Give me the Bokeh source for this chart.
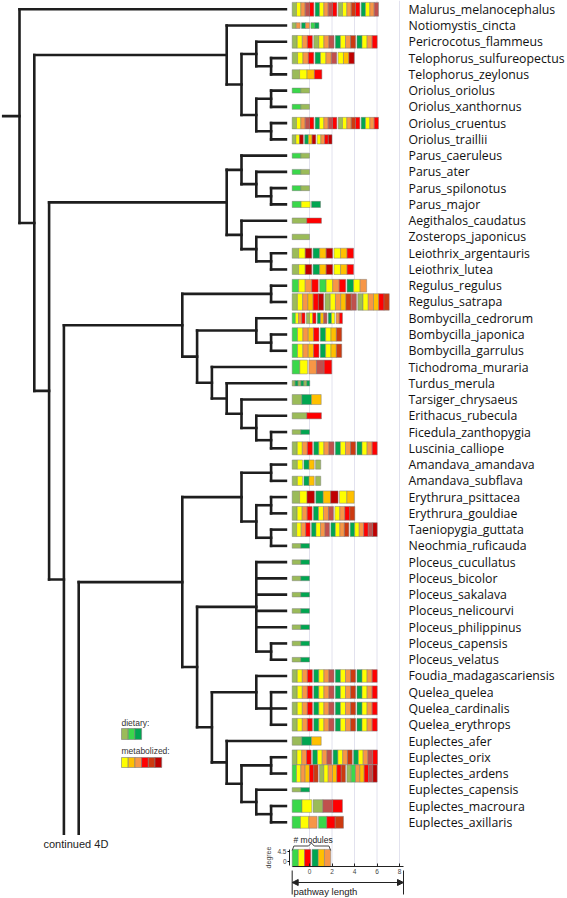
import re
from bokeh.plotting import figure
from bokeh.models import Range1d, LinearAxis, FixedTicker, Arrow, NormalHead
from bokeh.core.properties import value
from bokeh.embed import file_html
from bokeh.resources import INLINE

# ---------------- data ----------------
# tree (internal-node labels = node depth; tips sit at TIP_DEPTH; "*" = lineage continued in 4D)
tree_upper = ("(Malurus_melanocephalus,((Notiomystis_cincta,((Pericrocotus_flammeus,(Telophorus_sulfureopectus,"
              "Telophorus_zeylonus)17)16,((Oriolus_oriolus,Oriolus_xanthornus)17,(Oriolus_cruentus,Oriolus_traillii)17)16)15)14,"
              "(((Parus_caeruleus,(Parus_ater,(Parus_spilonotus,Parus_major)17)16)15,(Aegithalos_caudatus,(Zosterops_japonicus,"
              "(Leiothrix_argentauris,Leiothrix_lutea)17)16)15)14,(((Regulus_regulus,Regulus_satrapa)17,((Bombycilla_cedrorum,"
              "(Bombycilla_japonica,Bombycilla_garrulus)17)16,(Tichodroma_muraria,(Turdus_merula,(Tarsiger_chrysaeus,"
              "(Erithacus_rubecula,(Ficedula_zanthopygia,Luscinia_calliope)17)16)15)14)13)12)11,*)3)2)1)0")
tree_lower = ("((((Amandava_amandava,Amandava_subflava)17,((Erythrura_psittacea,Erythrura_gouldiae)17,(Taeniopygia_guttata,"
              "Neochmia_ruficauda)17)16)15,((Ploceus_cucullatus,Ploceus_bicolor,Ploceus_sakalava,Ploceus_nelicourvi,"
              "Ploceus_philippinus,(Ploceus_capensis,Ploceus_velatus)17)16,((Foudia_madagascariensis,(Quelea_quelea,"
              "Quelea_cardinalis,Quelea_erythrops)17)16,(Euplectes_afer,((Euplectes_orix,Euplectes_ardens)17,(Euplectes_capensis,"
              "(Euplectes_macroura,Euplectes_axillaris)17)16)15)14)13)12)11,*)4")
TIP_DEPTH = 18
ROOT_STUB = -1.1

# module bars: one char per compound cell, space = gap between modules
bar_pattern = [
    "oypbr Gypbr oyper Gypb", "op Gp gG", "oypr oypb Gype Gypr", "oypr Gypb yad", "oyar",
    "go", "go", "oypbr Gypbr oyper Gypr", "oyd Gad yprd",
    "go", "go", "go", "gy G", "or", "o", "oyd Gad yar", "oyd Gad yar",
    "gypr gypr Gyp", "oypard oypaeb oypare", "gypr oyr Gab Gy pr", "gypar Gyae", "gypar Gyae",
    "gy pbr", "oGoGoG", "oGa", "or", "oG", "oypr Gypb Gype Gypr",
    "oy Ga o", "oy Ga o", "oyd Gad ya", "oypr Gypb ypre", "oypr Gypb Gype Gyprbd", "oG",
    "oG", "oG", "oG", "oG", "oG", "oG", "oG",
    "oypr Gypb Gype Gypr", "oypr Gypb Gype Gypr", "oypr Gypb Gype Gypr", "oypr Gypb Gype Gypr",
    "oGa", "oypr Gypb Gype Gypbr", "gypare oypare ogparbd", "oG", "gy obr", "gyp gre",
]
cell_length = [
    0.385, 0.356, 0.45, 0.48, 0.66, 0.77, 0.77, 0.385, 0.33,
    0.77, 0.77, 0.77, 0.8, 1.3, 1.54, 0.58, 0.58,
    0.58, 0.466, 0.285, 0.476, 0.476, 0.68, 0.26, 0.86, 1.3, 0.77, 0.45,
    0.46, 0.46, 0.66, 0.444, 0.40, 0.77,
    0.77, 0.77, 0.77, 0.77, 0.77, 0.77, 0.77,
    0.45, 0.45, 0.45, 0.45, 0.86, 0.425, 0.385, 0.77, 0.87, 0.74,
]
degree = [
    3.6, 1.5, 3.3, 3.0, 2.4, 1.3, 1.3, 3.0, 2.4,
    1.3, 1.3, 1.3, 1.6, 1.4, 1.4, 2.6, 2.6,
    3.3, 4.3, 2.8, 3.5, 3.5, 3.6, 1.4, 2.6, 1.6, 1.2, 3.4,
    2.4, 2.4, 3.2, 3.6, 3.6, 1.2,
    1.2, 1.2, 1.2, 1.2, 1.2, 1.2, 1.2,
    3.3, 3.3, 3.3, 3.3, 2.2, 3.8, 4.5, 1.1, 3.3, 3.1,
]
dietary_keys = ["o", "g", "G"]
metabolized_keys = ["y", "a", "p", "r", "e", "d"]
legend_bar_pattern = "gyr Gap"
legend_bar_cell = 0.55
legend_bar_degree = 4.5
path_ticks = [0, 2, 4, 6, 8]
degree_ticks = [0, 4.5]

PALETTE = {"o": "#9BBB59", "g": "#3AD84A", "G": "#00A651", "y": "#FFFF00", "a": "#FFC000",
           "p": "#F79646", "r": "#FF0000", "b": "#C0504D", "e": "#CC3A10", "d": "#C00000"}

# ---------------- layout constants ----------------
W, H = 567, 898
PX_DEPTH, PX0_DEPTH = 14.8, 19.0      # tree depth unit
PX_ROW, PX0_ROW = 16.26, 8.8          # leaf row
PX_PATH, PX0_PATH = 11.25, 309.0      # pathway-length unit
PX_DEG, PX0_DEG = 2.222, 861.0        # degree axis (legend)
BAR_START = -1.54
GAP = 0.12
DEG_ROW = 17.3 / 4.5 / PX_ROW
CONT_Y = 50.7
LABEL_X = 8.8

def row(px):
    return (px - PX0_ROW) / PX_ROW

def path(px):
    return (px - PX0_PATH) / PX_PATH

# ---------------- tree parsing & layout ----------------
def parse(s):
    pos = 0
    def node():
        nonlocal pos
        if s[pos] == "(":
            pos += 1
            kids = [node()]
            while s[pos] == ",":
                pos += 1
                kids.append(node())
            pos += 1
            m = re.match(r"[0-9.]+", s[pos:])
            pos += m.end()
            return {"depth": float(m.group()), "kids": kids}
        m = re.match(r"[A-Za-z_*]+", s[pos:])
        pos += m.end()
        return {"name": m.group(), "kids": []}
    return node()

tips = []

def lay(n, parent_depth=None):
    if not n["kids"]:
        if n["name"] == "*":
            n["y"] = CONT_Y
            n["depth"] = parent_depth
        else:
            n["y"] = float(len(tips))
            tips.append(n["name"])
            n["depth"] = TIP_DEPTH
        return
    for k in n["kids"]:
        lay(k, n["depth"])
    n["y"] = (n["kids"][0]["y"] + n["kids"][-1]["y"]) / 2

segs = {"x0": [], "y0": [], "x1": [], "y1": []}

def add_seg(x0, y0, x1, y1):
    segs["x0"].append(x0); segs["y0"].append(y0); segs["x1"].append(x1); segs["y1"].append(y1)

def draw(n):
    if not n["kids"]:
        return
    add_seg(n["depth"], n["kids"][0]["y"], n["depth"], n["kids"][-1]["y"])
    for k in n["kids"]:
        if k["kids"] or k["name"] != "*":
            add_seg(n["depth"], k["y"], k["depth"], k["y"])
        draw(k)

upper = parse(tree_upper)
lower = parse(tree_lower)
lay(upper)
lay(lower)
draw(upper)
draw(lower)
add_seg(ROOT_STUB, upper["y"], upper["depth"], upper["y"])

# ---------------- figure ----------------
p = figure(width=W, height=H, output_backend="svg", toolbar_location=None,
           x_range=Range1d(-PX0_DEPTH / PX_DEPTH, (W - PX0_DEPTH) / PX_DEPTH),
           y_range=Range1d(row(H), row(0)),
           min_border=0, outline_line_color=None, background_fill_color="white")
p.xgrid.visible = False
p.ygrid.visible = False
p.center = [r for r in p.center if r.__class__.__name__ != "Grid"]
p.below = []
p.left = []
p.extra_x_ranges = {"path": Range1d(path(0), path(W))}
p.extra_y_ranges = {"deg": Range1d((PX0_DEG - H) / PX_DEG, PX0_DEG / PX_DEG)}

AXIS_ROW = row(866)

# grid lines of pathway length
p.segment(x0=path_ticks, y0=[row(0)] * len(path_ticks), x1=path_ticks, y1=[AXIS_ROW] * len(path_ticks),
          x_range_name="path", line_color="#E2E2EE", line_width=1)

# tree
p.segment(x0="x0", y0="y0", x1="x1", y1="y1", source=segs, line_color="#1E1E1E", line_width=2.6,
          line_cap="square")

# bars
def bar_cells(pattern, cl, deg, yc):
    q = {"left": [], "right": [], "top": [], "bottom": [], "color": []}
    x = BAR_START
    h = deg * DEG_ROW
    for ch in pattern:
        if ch == " ":
            x += GAP
            continue
        q["left"].append(x); q["right"].append(x + cl)
        q["top"].append(yc - h / 2); q["bottom"].append(yc + h / 2)
        q["color"].append(PALETTE[ch])
        x += cl
    return q

allq = {"left": [], "right": [], "top": [], "bottom": [], "color": []}
for i, (pat, cl, dg) in enumerate(zip(bar_pattern, cell_length, degree)):
    q = bar_cells(pat, cl, dg, float(i))
    for k in allq:
        allq[k] += q[k]
LEG_ROW = row(857.5)
q = bar_cells(legend_bar_pattern, legend_bar_cell, legend_bar_degree, LEG_ROW)
for k in allq:
    allq[k] += q[k]
p.quad(left="left", right="right", top="top", bottom="bottom", fill_color="color", source=allq,
       x_range_name="path", line_color="#7A7A7A", line_width=0.6, line_alpha=0.8)

# species labels
p.text(x=[LABEL_X] * len(tips), y=list(range(len(tips))), text=tips, x_range_name="path",
       text_baseline="middle", text_align="left", text_font=value("Open Sans"),
       text_font_size="12.3px", text_color="#111111")

# colour legend
sw = 6.7 / PX_PATH
x_leg = path(121)
p.quad(left=[x_leg + i * sw for i in range(len(dietary_keys))],
       right=[x_leg + (i + 1) * sw for i in range(len(dietary_keys))],
       top=[row(728)] * len(dietary_keys), bottom=[row(739)] * len(dietary_keys),
       fill_color=[PALETTE[k] for k in dietary_keys], x_range_name="path",
       line_color="#7A7A7A", line_width=0.6)
p.quad(left=[x_leg + i * sw for i in range(len(metabolized_keys))],
       right=[x_leg + (i + 1) * sw for i in range(len(metabolized_keys))],
       top=[row(757)] * len(metabolized_keys), bottom=[row(767)] * len(metabolized_keys),
       fill_color=[PALETTE[k] for k in metabolized_keys], x_range_name="path",
       line_color="#7A7A7A", line_width=0.6)
p.text(x=[x_leg, x_leg], y=[row(727), row(755)], text=["dietary:", "metabolized:"], x_range_name="path",
       text_baseline="bottom", text_font=value("Liberation Sans"), text_font_size="8.5px",
       text_color="#333333")

# continued label
p.text(x=[(43 - PX0_DEPTH) / PX_DEPTH], y=[row(843)], text=["continued 4D"], text_baseline="middle",
       text_font=value("Liberation Sans"), text_font_size="11px", text_color="#222222")

# bottom key: modules brace
bar_end = BAR_START + len(legend_bar_pattern.replace(" ", "")) * legend_bar_cell + legend_bar_pattern.count(" ") * GAP
mid = (BAR_START + bar_end) / 2
yb, ym, yt = row(850), row(845.5), row(842.5)
p.line(x=[BAR_START, BAR_START + 0.15, mid - 0.25, mid, mid + 0.25, bar_end - 0.15, bar_end],
       y=[yb, ym, ym, yt, ym, ym, yb], x_range_name="path", line_color="#444444", line_width=1)
p.text(x=[path(293)], y=[row(839)], text=["# modules"], x_range_name="path", text_baseline="middle",
       text_font=value("Liberation Sans"), text_font_size="8.5px", text_color="#222222")

# pathway length axis
PATH_END = path(403)
xax = LinearAxis(x_range_name="path", fixed_location=AXIS_ROW, ticker=FixedTicker(ticks=path_ticks),
                 bounds=(BAR_START, PATH_END), major_tick_in=3, major_tick_out=0, minor_tick_out=0,
                 minor_tick_in=0, major_label_standoff=2, major_label_text_font_size="6.5px",
                 major_label_text_font="Liberation Sans", axis_line_color="#222222", axis_line_width=1.2,
                 major_tick_line_color="#222222")
p.add_layout(xax, "below")

# degree axis
yax = LinearAxis(y_range_name="deg", x_range_name="path", fixed_location=path(289),
                 ticker=FixedTicker(ticks=degree_ticks), bounds=(-2.0, 5.4), major_tick_in=0,
                 major_tick_out=2, minor_tick_in=0, minor_tick_out=0, major_label_standoff=1,
                 major_label_text_font_size="6.5px", major_label_text_font="Liberation Sans",
                 axis_label="degree", axis_label_text_font_size="7px", axis_label_standoff=2,
                 axis_label_text_font_style="normal", axis_label_text_font="Liberation Sans",
                 axis_line_color="#222222", axis_line_width=1)
p.add_layout(yax, "left")

# pathway length arrow
ya = row(882)
p.segment(x0=[BAR_START, PATH_END], y0=[row(870)] * 2, x1=[BAR_START, PATH_END], y1=[row(894)] * 2,
          x_range_name="path", line_color="#222222", line_width=1)
p.add_layout(Arrow(x_start=BAR_START, y_start=ya, x_end=PATH_END, y_end=ya, x_range_name="path",
                   line_color="#222222", line_width=1,
                   start=NormalHead(size=6, fill_color="#222222", line_color="#222222"),
                   end=NormalHead(size=6, fill_color="#222222", line_color="#222222")))
p.text(x=[path(293)], y=[row(891)], text=["pathway length"], x_range_name="path", text_baseline="middle",
       text_font=value("Liberation Sans"), text_font_size="9.5px", text_color="#222222")

open("out.html", "w").write(file_html(p, INLINE))
